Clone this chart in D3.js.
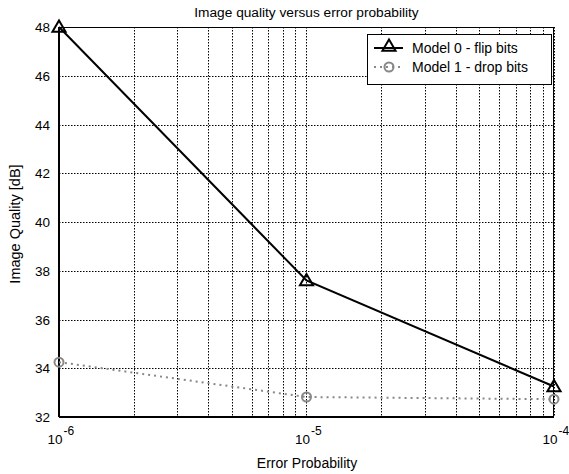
<!DOCTYPE html>
<html><head><meta charset="utf-8">
<script src="https://cdn.jsdelivr.net/npm/d3@7"></script>
<style>body{margin:0;background:#fff}svg{display:block;font-family:"Liberation Sans",Arial,sans-serif}</style>
</head><body><svg id="c" width="569" height="474"></svg>
<script>
const errorProb = [1e-6, 1e-5, 1e-4];
const model0 = [48.0, 37.6, 33.25];
const model1 = [34.25, 32.82, 32.73];
const seriesNames = ["Model 0 - flip bits", "Model 1 - drop bits"];
const yTicks = [32, 34, 36, 38, 40, 42, 44, 46, 48];
const xTickExps = [-6, -5, -4];

const svg = d3.select("#c");
const L = 59, R = 554, T = 27, B = 417;
const x = d3.scaleLog().domain([1e-6, 1e-4]).range([L, R]);
const y = d3.scaleLinear().domain([32, 48]).range([B, T]);

// minor grid
const minors = [];
for (let e = -6; e < -4; e++) for (let m = 1; m <= 9; m++) minors.push(m * Math.pow(10, e));
minors.push(1e-4);
const g = svg.append("g");
g.selectAll(".vg").data(minors).join("line")
  .attr("x1", d => Math.round(x(d)) + 0.5).attr("x2", d => Math.round(x(d)) + 0.5)
  .attr("y1", T).attr("y2", B)
  .attr("stroke", "#000").attr("stroke-width", 1).attr("stroke-dasharray", "1.5,1.5");
g.selectAll(".hg").data(yTicks).join("line")
  .attr("x1", L).attr("x2", R)
  .attr("y1", d => Math.round(y(d)) + 0.5).attr("y2", d => Math.round(y(d)) + 0.5)
  .attr("stroke", "#000").attr("stroke-width", 1).attr("stroke-dasharray", "1.5,1.5");

// box
svg.append("line").attr("x1", L).attr("x2", R).attr("y1", T + 0.5).attr("y2", T + 0.5).attr("stroke", "#000");
svg.append("line").attr("x1", R - 0.5).attr("x2", R - 0.5).attr("y1", T).attr("y2", B).attr("stroke", "#000");
svg.append("line").attr("x1", L).attr("x2", R).attr("y1", B).attr("y2", B).attr("stroke", "#000").attr("stroke-width", 2);
svg.append("line").attr("x1", L).attr("x2", L).attr("y1", T).attr("y2", B).attr("stroke", "#000").attr("stroke-width", 2);

// y tick labels
svg.selectAll(".yt").data(yTicks).join("text")
  .attr("x", L - 9).attr("y", d => y(d) + 5)
  .attr("text-anchor", "end").attr("font-size", 13.5).text(d => d);

// x tick labels
const xt = svg.selectAll(".xt").data(xTickExps).join("text")
  .attr("x", d => x(Math.pow(10, d)) + 3.5).attr("y", 444)
  .attr("text-anchor", "end").attr("font-size", 13.5);
xt.append("tspan").text("10");
const sup = svg.selectAll(".xs").data(xTickExps).join("text")
  .attr("x", d => x(Math.pow(10, d)) + 4.5).attr("y", 435)
  .attr("font-size", 12).text(d => d);

// titles
svg.append("text").attr("x", (L + R) / 2).attr("y", 17).attr("text-anchor", "middle").attr("font-size", 13.7).text("Image quality versus error probability");
svg.append("text").attr("x", (L + R) / 2 + 0.5).attr("y", 468).attr("text-anchor", "middle").attr("font-size", 14).text("Error Probability");
svg.append("text").attr("transform", `translate(20,${(T + B) / 2 + 2}) rotate(-90)`).attr("text-anchor", "middle").attr("font-size", 14.5).text("Image Quality [dB]");

// series
const d0 = errorProb.map((p, i) => [p, model0[i]]);
const d1 = errorProb.map((p, i) => [p, model1[i]]);
const line = d3.line().x(d => x(d[0])).y(d => y(d[1]));
svg.append("path").datum(d1).attr("d", line).attr("fill", "none")
  .attr("stroke", "#888").attr("stroke-width", 2).attr("stroke-dasharray", "2,4").attr("stroke-linecap", "butt");
svg.append("path").datum(d0).attr("d", line).attr("fill", "none")
  .attr("stroke", "#000").attr("stroke-width", 2);

const tri = d3.symbol().type(d3.symbolTriangle).size(75);
svg.selectAll(".m0").data(d0).join("path")
  .attr("d", tri).attr("transform", d => `translate(${x(d[0])},${y(d[1]) + 1})`)
  .attr("fill", "none").attr("stroke", "#000").attr("stroke-width", 2);
svg.selectAll(".m1").data(d1).join("circle")
  .attr("cx", d => x(d[0])).attr("cy", d => y(d[1])).attr("r", 4.5)
  .attr("fill", "none").attr("stroke", "#888").attr("stroke-width", 2);

// legend
const lg = svg.append("g");
lg.append("rect").attr("x", 367.5).attr("y", 34.5).attr("width", 184).attr("height", 50)
  .attr("fill", "#fff").attr("stroke", "#000").attr("stroke-width", 1);
lg.append("line").attr("x1", 374).attr("x2", 403).attr("y1", 48).attr("y2", 48).attr("stroke", "#000").attr("stroke-width", 2);
lg.append("path").attr("d", tri).attr("transform", "translate(389,47)").attr("fill", "none").attr("stroke", "#000").attr("stroke-width", 2);
lg.append("line").attr("x1", 374).attr("x2", 403).attr("y1", 67).attr("y2", 67).attr("stroke", "#888").attr("stroke-width", 2).attr("stroke-dasharray", "2,4");
lg.append("circle").attr("cx", 389).attr("cy", 67).attr("r", 4.5).attr("fill", "none").attr("stroke", "#888").attr("stroke-width", 2);
lg.selectAll(".lt").data(seriesNames).join("text")
  .attr("x", 412).attr("y", (d, i) => 53 + i * 19).attr("font-size", 14).text(d => d);
</script></body></html>
